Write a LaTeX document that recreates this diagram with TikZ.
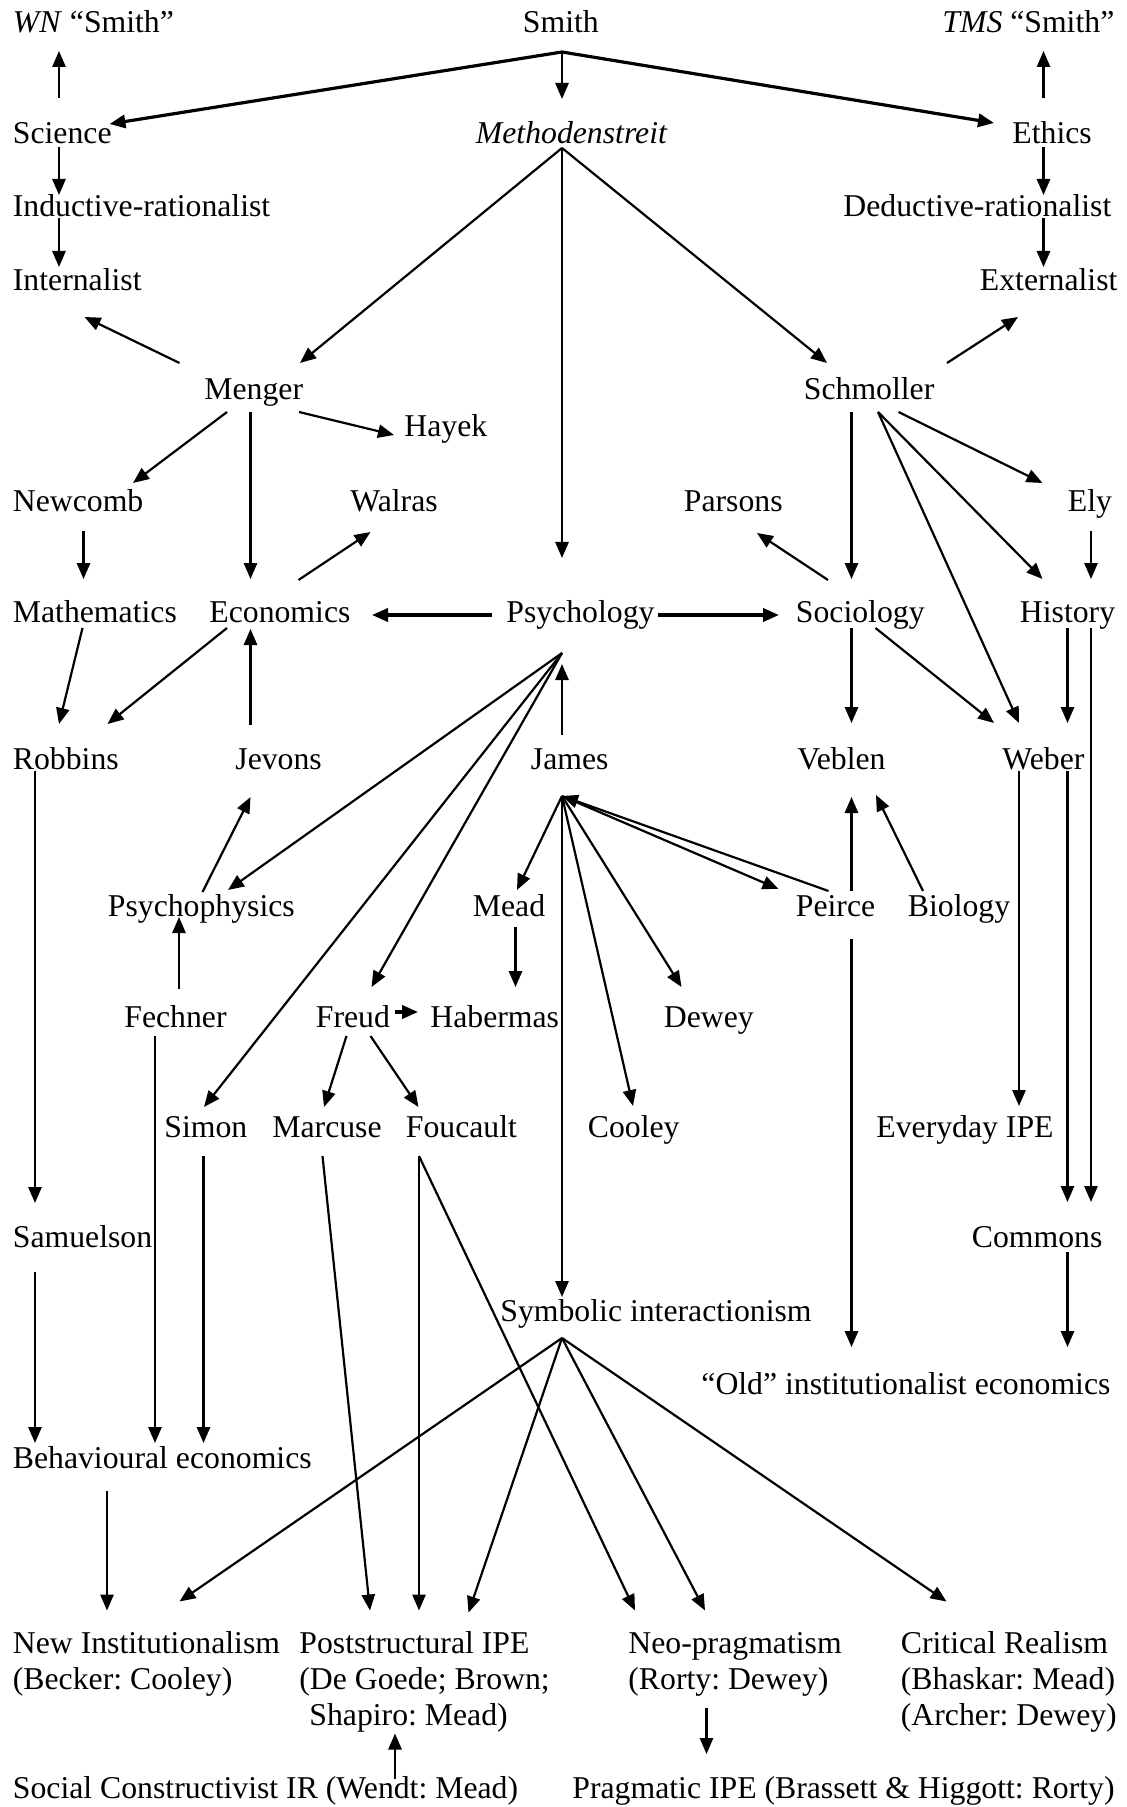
\documentclass[tikz,border=0pt]{standalone}
\usepackage{fontspec}
\setmainfont{Liberation Serif}
\usetikzlibrary{arrows.meta, calc}
\frenchspacing

\begin{document}
\begin{tikzpicture}[
    x=0.5pt, y=-0.5pt,
    every node/.style={inner sep=0pt, font=\fontsize{15.87}{18.15}\selectfont},
    lbl/.style={anchor=base west},
    multi/.style={anchor=north west, align=left},
    arrow/.style={-{Triangle[length=8pt, width=6.6pt]}, line width=1.1pt},
    thickarrow/.style={arrow, line width=1.6pt},
]
\useasboundingbox (0,0) rectangle (1126,1807);

% Smith and the two readings
\node[lbl] (wn) at (12.5,33) {\textit{WN} “Smith”};
\node[lbl] (smith) at (522.5,33) {Smith};
\node[lbl] (tms) at (942,33) {\textit{TMS} “Smith”};
\node[lbl] (science) at (12.5,144) {Science};
\node[lbl] (methoden) at (475.5,144) {\textit{Methodenstreit}};
\node[lbl] (ethics) at (1012,144) {Ethics};
\node[lbl] (inductive) at (12.5,217) {Inductive-rationalist};
\node[lbl] (deductive) at (843,217) {Deductive-rationalist};
\node[lbl] (internalist) at (12.5,291) {Internalist};
\node[lbl] (externalist) at (979.5,291) {Externalist};

% Menger and Schmoller
\node[lbl] (menger) at (204,400) {Menger};
\node[lbl] (schmoller) at (803.5,400) {Schmoller};
\node[lbl] (hayek) at (404,437) {Hayek};
\node[lbl] (newcomb) at (12.5,512) {Newcomb};
\node[lbl] (walras) at (350,512) {Walras};
\node[lbl] (parsons) at (683.5,512) {Parsons};
\node[lbl] (ely) at (1067.5,512) {Ely};

% Disciplines
\node[lbl] (mathematics) at (12.5,622) {Mathematics};
\node[lbl] (economics) at (209,622) {Economics};
\node[lbl] (psychology) at (506,622) {Psychology};
\node[lbl] (sociology) at (795.5,622) {Sociology};
\node[lbl] (history) at (1019.5,622) {History};
\node[lbl] (robbins) at (12.5,769) {Robbins};
\node[lbl] (jevons) at (235,769) {Jevons};
\node[lbl] (james) at (530.5,769) {James};
\node[lbl] (veblen) at (797,769) {Veblen};
\node[lbl] (weber) at (1002,769) {Weber};

% Second generation
\node[lbl] (psychophysics) at (107.5,916) {Psychophysics};
\node[lbl] (mead) at (472.5,916) {Mead};
\node[lbl] (peirce) at (795.5,916) {Peirce};
\node[lbl] (biology) at (907.5,916) {Biology};
\node[lbl] (fechner) at (124,1027) {Fechner};
\node[lbl] (freud) at (315.5,1027) {Freud};
\node[lbl] (habermas) at (430,1027) {Habermas};
\node[lbl] (dewey) at (663.5,1027) {Dewey};
\node[lbl] (simon) at (164,1137) {Simon};
\node[lbl] (marcuse) at (272,1137) {Marcuse};
\node[lbl] (foucault) at (405.5,1137) {Foucault};
\node[lbl] (cooley) at (587.5,1137) {Cooley};
\node[lbl] (everyday) at (876,1137) {Everyday IPE};
\node[lbl] (samuelson) at (12.5,1247) {Samuelson};
\node[lbl] (commons) at (971.5,1247) {Commons};
\node[lbl] (symbolic) at (500,1321) {Symbolic interactionism};
\node[lbl] (old) at (701,1394) {“Old” institutionalist economics};
\node[lbl] (behavioural) at (12.5,1468) {Behavioural economics};

% Current approaches
\node[multi] (newinst) at (12.5,1627.5) {\strut New Institutionalism\\(Becker: Cooley)};
\node[multi] (poststruct) at (299,1627.5) {\strut Poststructural IPE\\(De Goede; Brown;\\\hspace*{5pt}Shapiro: Mead)};
\node[multi] (neoprag) at (628,1627.5) {\strut Neo-pragmatism\\(Rorty: Dewey)};
\node[multi] (critreal) at (900.5,1627.5) {\strut Critical Realism\\(Bhaskar: Mead)\\(Archer: Dewey)};
\node[lbl] (socialconst) at (12.5,1798) {Social Constructivist IR (Wendt: Mead)};
\node[lbl] (pragipe) at (572,1798) {Pragmatic IPE (Brassett \& Higgott: Rorty)};

% Hubs
\coordinate (hubsmith) at ($(smith.base west)+(39.5,19)$);
\coordinate (hubmeth) at ($(methoden.base west)+(86.5,4)$);
\coordinate (hubpsych) at ($(psychology.base west)+(56,31)$);
\coordinate (hubjames) at ($(james.base west)+(31.5,27)$);
\coordinate (hubsymb) at ($(symbolic.base west)+(62,17)$);

% Smith
\draw[thickarrow] (hubsmith) -- ($(science.base west)+(97,-20)$);
\draw[arrow] (hubsmith) -- ($(methoden.base west)+(86.5,-45)$);
\draw[thickarrow] (hubsmith) -- ($(ethics.base west)+(-18,-21)$);
\draw[arrow] ($(science.base west)+(46.5,-46)$) -- ($(wn.base west)+(46.5,18)$);
\draw[arrow] ($(ethics.base west)+(31.5,-46)$) -- ($(tms.base west)+(101.5,18)$);
\draw[arrow] ($(science.base west)+(46.5,3)$) -- ($(inductive.base west)+(46.5,-22)$);
\draw[arrow] ($(inductive.base west)+(46.5,1)$) -- ($(internalist.base west)+(46.5,-24)$);
\draw[arrow] ($(ethics.base west)+(31.5,3)$) -- ($(deductive.base west)+(200.5,-22)$);
\draw[arrow] ($(deductive.base west)+(200.5,1)$) -- ($(externalist.base west)+(64,-24)$);

% Methodenstreit
\draw[arrow] (hubmeth) -- ($(menger.base west)+(96,-37)$);
\draw[arrow] (hubmeth) -- ($(schmoller.base west)+(23.5,-37)$);
\draw[arrow] (hubmeth) -- ($(psychology.base west)+(56,-64)$);

% Menger
\draw[arrow] ($(menger.base west)+(-24.5,-37)$) -- ($(internalist.base west)+(72,26)$);
\draw[arrow] ($(menger.base west)+(23,12)$) -- ($(newcomb.base west)+(120.5,-29)$);
\draw[arrow] ($(menger.base west)+(46.5,12)$) -- ($(economics.base west)+(41.5,-43)$);
\draw[arrow] ($(menger.base west)+(95,12)$) -- ($(hayek.base west)+(-10,-2)$);

% Schmoller
\draw[arrow] ($(schmoller.base west)+(143.5,-37)$) -- ($(externalist.base west)+(38.5,26)$);
\draw[arrow] ($(schmoller.base west)+(48,12)$) -- ($(sociology.base west)+(56,-43)$);
\draw[arrow] ($(schmoller.base west)+(74.5,12)$) -- ($(weber.base west)+(17,-46)$);
\draw[arrow] ($(schmoller.base west)+(74.5,12)$) -- ($(history.base west)+(23,-43)$);
\draw[arrow] ($(schmoller.base west)+(95,12)$) -- ($(ely.base west)+(-25,-29)$);

% Disciplines
\draw[arrow] ($(newcomb.base west)+(71,19)$) -- ($(mathematics.base west)+(71,-43)$);
\draw[arrow] ($(economics.base west)+(89.5,-42)$) -- ($(walras.base west)+(20.5,20)$);
\draw[arrow] ($(sociology.base west)+(32.5,-42)$) -- ($(parsons.base west)+(73.5,21)$);
\draw[arrow] ($(ely.base west)+(23.5,19)$) -- ($(history.base west)+(71.5,-43)$);
\draw[thickarrow] ($(psychology.base west)+(-14,-7)$) -- ($(economics.base west)+(163,-7)$);
\draw[thickarrow] ($(psychology.base west)+(152,-7)$) -- ($(sociology.base west)+(-16.5,-7)$);
\draw[arrow] ($(mathematics.base west)+(70,6)$) -- ($(robbins.base west)+(46.5,-45)$);
\draw[arrow] ($(economics.base west)+(18,6)$) -- ($(robbins.base west)+(95,-45)$);
\draw[arrow] ($(jevons.base west)+(15.5,-44)$) -- ($(economics.base west)+(41.5,7)$);
\draw[arrow] ($(james.base west)+(31.5,-34)$) -- ($(psychology.base west)+(56,42)$);
\draw[arrow] ($(sociology.base west)+(56,6)$) -- ($(veblen.base west)+(54.5,-46)$);
\draw[arrow] ($(sociology.base west)+(80,6)$) -- ($(weber.base west)+(-8,-46)$);
\draw[arrow] ($(history.base west)+(48,6)$) -- ($(weber.base west)+(65.5,-46)$);
\draw[arrow] ($(history.base west)+(71.5,6)$) -- ($(commons.base west)+(119.5,-45)$);

% Psychology
\draw[arrow] (hubpsych) -- ($(psychophysics.base west)+(120.5,-26)$);
\draw[arrow] (hubpsych) -- ($(simon.base west)+(40,-30)$);
\draw[arrow] (hubpsych) -- ($(freud.base west)+(56,-40)$);

% James
\draw[arrow] (hubjames) -- ($(mead.base west)+(44.5,-26)$);
\draw[arrow] (hubjames) -- ($(peirce.base west)+(-17,-27)$);
\draw[arrow] ($(peirce.base west)+(33,-25)$) -- (hubjames);
\draw[arrow] (hubjames) -- ($(dewey.base west)+(18,-40)$);
\draw[arrow] (hubjames) -- ($(cooley.base west)+(45.5,-31)$);
\draw[arrow] (hubjames) -- ($(symbolic.base west)+(62,-24)$);

% Middle rows
\draw[arrow] ($(psychophysics.base west)+(95,-24)$) -- ($(jevons.base west)+(15.5,28)$);
\draw[arrow] ($(peirce.base west)+(56,-25)$) -- ($(veblen.base west)+(54.5,28)$);
\draw[arrow] ($(biology.base west)+(15.5,-25)$) -- ($(veblen.base west)+(79,26)$);
\draw[arrow] ($(weber.base west)+(17,2)$) -- ($(everyday.base west)+(143,-31)$);
\draw[arrow] ($(weber.base west)+(65.5,2)$) -- ($(commons.base west)+(96,-45)$);
\draw[arrow] ($(robbins.base west)+(22.5,2)$) -- ($(samuelson.base west)+(22.5,-44)$);
\draw[arrow] ($(mead.base west)+(43,11)$) -- ($(habermas.base west)+(85.5,-40)$);
\draw[thickarrow] ($(freud.base west)+(79.5,-15)$) -- ($(habermas.base west)+(-12,-15)$);
\draw[arrow] ($(fechner.base west)+(55,-38)$) -- ($(psychophysics.base west)+(71.5,1)$);
\draw[arrow] ($(freud.base west)+(31,9)$) -- ($(marcuse.base west)+(52,-30)$);
\draw[arrow] ($(freud.base west)+(55,9)$) -- ($(foucault.base west)+(13,-30)$);

% Long lines down
\draw[arrow] ($(fechner.base west)+(31,9)$) -- ($(behavioural.base west)+(142.5,-25)$);
\draw[arrow] ($(simon.base west)+(39.5,19)$) -- ($(behavioural.base west)+(191,-25)$);
\draw[arrow] ($(samuelson.base west)+(22.5,25)$) -- ($(behavioural.base west)+(22.5,-25)$);
\draw[arrow] ($(marcuse.base west)+(50.5,19)$) -- ($(poststruct.north west)+(71,-17)$);
\draw[arrow] ($(foucault.base west)+(13.5,19)$) -- ($(poststruct.north west)+(120,-17)$);
\draw[arrow] ($(foucault.base west)+(13.5,19)$) -- ($(neoprag.north west)+(7,-17)$);
\draw[arrow] ($(peirce.base west)+(56,23)$) -- ($(old.base west)+(150.5,-47)$);
\draw[arrow] ($(commons.base west)+(96,5)$) -- ($(old.base west)+(366.5,-47)$);

% Symbolic interactionism
\draw[arrow] (hubsymb) -- ($(newinst.north west)+(167,-26)$);
\draw[arrow] (hubsymb) -- ($(poststruct.north west)+(169.5,-15)$);
\draw[arrow] (hubsymb) -- ($(neoprag.north west)+(77,-17)$);
\draw[arrow] (hubsymb) -- ($(critreal.north west)+(46,-26)$);

% Bottom
\draw[arrow] ($(behavioural.base west)+(94.5,23)$) -- ($(newinst.north west)+(94.5,-17)$);
\draw[arrow] ($(socialconst.base west)+(382.5,-19)$) -- ($(poststruct.north west)+(96,106)$);
\draw[arrow] ($(neoprag.north west)+(78.5,80)$) -- ($(pragipe.base west)+(134.5,-44)$);

\end{tikzpicture}
\end{document}
